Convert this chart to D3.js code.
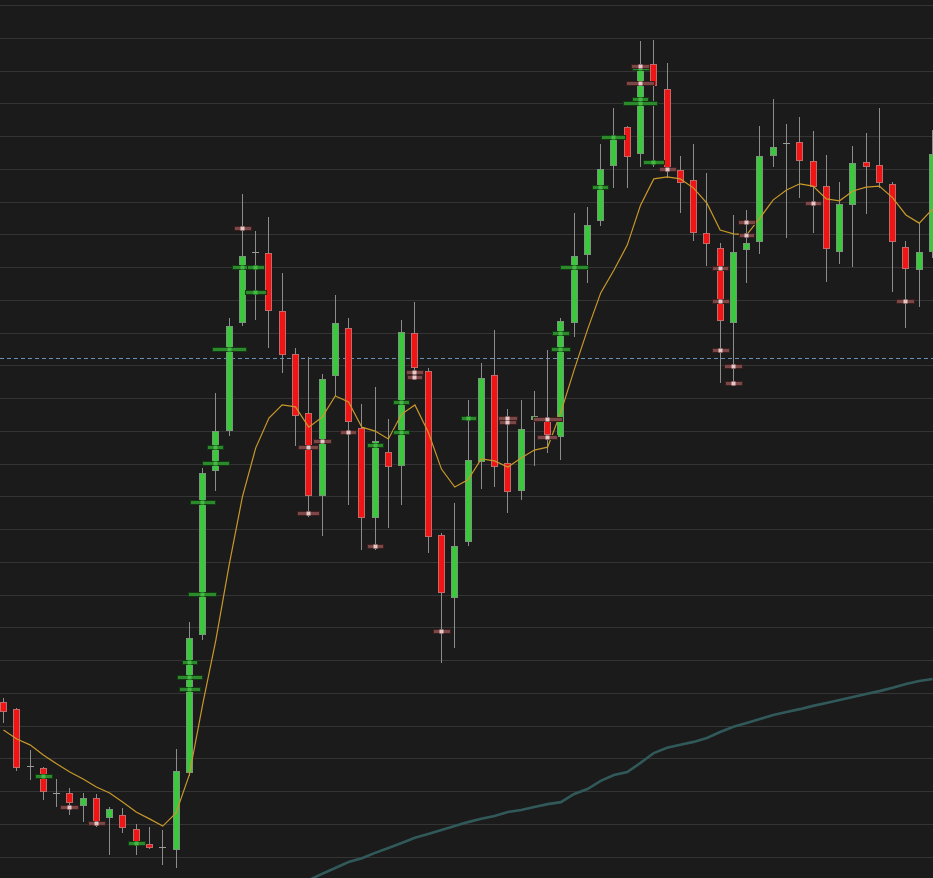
<!DOCTYPE html>
<html><head><meta charset="utf-8">
<script src="https://cdn.jsdelivr.net/npm/d3@7"></script>
<style>html,body{margin:0;padding:0;background:#1b1b1b;overflow:hidden}</style>
</head><body><svg id="c" width="933" height="878"></svg>
<script>
const opens  = [14.72,14.50,12.76,12.70,11.94,11.94,11.54,11.79,11.18,11.27,10.84,10.38,10.29,10.20,12.55,16.76,21.77,22.99,26.29,28.46,28.43,26.66,25.34,23.54,21.01,24.67,26.14,23.08,20.34,22.35,21.92,25.99,24.83,19.82,17.89,19.60,22.05,24.70,22.02,21.16,23.34,23.41,22.81,26.29,28.37,29.40,31.08,32.28,31.45,34.20,33.44,30.96,30.66,29.04,28.57,26.29,28.52,28.76,31.39,31.79,31.82,31.24,30.47,28.46,29.89,31.21,31.12,30.54,28.61,27.91,28.46];
const highs  = [14.84,14.52,13.25,12.72,12.37,12.09,11.94,11.91,11.51,11.48,10.99,10.90,10.81,13.28,17.16,21.86,24.15,26.44,30.23,29.10,29.53,27.82,25.53,25.25,24.73,27.15,26.44,23.82,24.34,23.36,26.38,26.93,24.92,19.88,20.79,23.94,25.07,26.08,23.66,23.94,24.21,25.47,26.44,29.65,29.83,31.76,32.86,32.31,34.90,34.93,34.23,31.39,31.76,30.87,28.73,29.59,29.74,32.31,33.13,32.37,32.58,32.15,31.42,30.60,31.70,32.09,32.86,30.60,28.79,29.34,32.18];
const lows   = [14.08,12.61,12.34,11.73,11.51,11.27,11.05,10.90,10.05,10.72,10.05,10.24,9.74,9.65,12.46,16.61,21.16,22.84,26.20,26.38,25.53,24.76,22.53,20.37,19.79,24.06,20.73,19.36,19.36,20.03,20.73,24.61,19.27,15.91,16.37,19.48,21.22,21.28,20.49,20.89,21.92,22.32,22.11,25.86,27.51,29.25,30.41,30.41,31.05,31.05,30.72,29.65,28.79,28.03,24.46,24.40,27.51,28.40,31.05,28.89,30.11,29.04,27.54,28.09,28.00,29.62,30.41,27.24,26.14,26.78,28.28];
const closes = [14.41,12.70,12.76,11.97,11.94,11.63,11.79,11.05,11.45,10.87,10.41,10.26,10.29,12.61,16.67,21.71,22.99,26.20,28.34,28.46,26.66,25.31,23.45,21.01,24.58,26.29,23.27,20.34,22.69,21.89,26.02,24.92,19.76,18.05,19.48,22.11,24.61,21.89,21.13,23.04,23.45,22.87,26.35,28.34,29.28,30.99,31.97,31.36,34.11,33.53,30.96,30.57,29.04,28.70,26.35,28.46,28.73,31.39,31.67,31.79,31.24,30.44,28.55,29.92,31.18,31.05,30.57,28.76,27.94,28.46,31.45];
const movingAvg = [13.86,13.59,13.41,13.10,12.83,12.58,12.37,12.12,11.94,11.66,11.36,11.15,10.93,11.33,12.49,14.63,16.61,18.90,20.98,22.47,23.39,23.79,23.73,23.11,23.41,24.06,23.88,23.11,22.99,22.75,23.51,23.79,22.96,21.83,21.28,21.50,22.14,22.08,21.89,22.17,22.41,22.50,23.57,24.86,26.08,27.21,27.91,28.67,29.89,30.69,30.75,30.69,30.41,29.95,29.13,29.01,28.98,29.50,30.05,30.35,30.54,30.47,30.08,30.02,30.32,30.44,30.47,30.11,29.59,29.34,29.77];
const slowLine = [null,null,null,null,null,null,null,null,null,null,null,null,null,null,null,null,null,null,null,null,null,null,null,9.28,9.47,9.65,9.83,9.95,10.11,10.26,10.41,10.57,10.69,10.81,10.93,11.05,11.15,11.24,11.36,11.42,11.51,11.60,11.66,11.91,12.06,12.31,12.49,12.58,12.86,13.16,13.32,13.41,13.50,13.62,13.80,13.96,14.08,14.20,14.32,14.41,14.50,14.60,14.69,14.78,14.87,14.96,15.05,15.15,15.27,15.36,15.42];
const refLevel = 25.22;
// trade markers
const markerBar   = [3,5,7,10,14,14,14,15,15,16,16,17,18,18,19,19,23,23,24,26,28,28,30,30,31,31,33,35,38,38,41,41,42,42,43,45,46,48,48,48,48,48,49,50,54,54,54,55,55,56,56,61,68];
const markerPrice = [12.46,11.51,11.02,10.41,15.94,15.48,15.12,20.83,18.02,22.50,22.02,25.50,29.19,28.00,28.00,27.24,22.50,20.49,22.69,22.96,22.57,19.48,23.88,22.96,24.79,24.64,16.89,23.39,23.39,23.27,23.36,22.81,25.99,25.50,28.00,30.44,31.97,34.08,34.15,33.62,33.13,33.01,31.21,31.00,27.97,26.96,25.47,24.98,24.46,29.37,28.98,29.95,26.96];
const markerQty   = [900,950,900,900,800,1300,1100,1300,1450,850,1400,1750,900,1100,900,1100,1050,1150,950,850,850,850,850,850,900,800,900,800,1000,900,1500,1050,900,1000,1450,850,1250,900,950,1450,850,1750,1100,900,850,900,900,950,900,900,800,850,950];
const markerSide  = ["B","S","S","B","B","B","B","B","B","B","B","B","S","B","B","B","S","S","S","S","B","S","B","B","S","S","S","B","S","S","S","S","B","B","B","B","B","B","S","S","B","B","B","S","S","S","S","S","S","S","S","S","S"];

const W = 933, H = 878;
const svg = d3.select('#c');
svg.append('rect').attr('width', W).attr('height', H).attr('fill', '#1b1b1b');

const x = d3.scaleLinear().domain([0, 70]).range([3, 932]);
const y = d3.scaleLinear().domain([9.344, 36.153]).range([H, 0]);
const qw = d3.scaleLinear().domain([0, 2000]).range([0, 40]);

// grid
svg.append('g').selectAll('line').data(y.ticks(26)).join('line')
  .attr('x1', 0).attr('x2', W)
  .attr('y1', d => Math.round(y(d)) + 0.5).attr('y2', d => Math.round(y(d)) + 0.5)
  .attr('stroke', '#343434').attr('stroke-width', 1);

// reference dashed line
svg.append('line').attr('x1', 0).attr('x2', W)
  .attr('y1', Math.round(y(refLevel)) + 0.5).attr('y2', Math.round(y(refLevel)) + 0.5)
  .attr('stroke', '#6a8fb5').attr('stroke-width', 1).attr('stroke-dasharray', '4,3');

// slow line
svg.append('path').datum(slowLine)
  .attr('d', d3.line().defined(d => d != null).x((d, i) => x(i) + 0.5).y(d => y(d)))
  .attr('fill', 'none').attr('stroke', '#31595a').attr('stroke-width', 2.6);

const data = opens.map((o, i) => ({i, o, h: highs[i], l: lows[i], c: closes[i]}));
const cg = svg.append('g');
const cx = d => Math.round(x(d.i));
// wicks
cg.selectAll('line.w').data(data).join('line').attr('class', 'w')
  .attr('x1', d => cx(d) + 0.5).attr('x2', d => cx(d) + 0.5)
  .attr('y1', d => Math.round(y(d.h))).attr('y2', d => Math.round(y(d.l)))
  .attr('stroke', '#8c8c8c').attr('stroke-width', 1);
// bodies
const bodies = data.filter(d => d.o !== d.c);
cg.selectAll('rect.b').data(bodies).join('rect').attr('class', 'b')
  .attr('x', d => cx(d) - 2.5).attr('width', 6)
  .attr('y', d => Math.round(y(Math.max(d.o, d.c))) + 0.5)
  .attr('height', d => Math.max(1, Math.round(y(Math.min(d.o, d.c))) - Math.round(y(Math.max(d.o, d.c))) - 1))
  .attr('fill', d => d.c > d.o ? '#3cc83c' : '#f01414')
  .attr('stroke', d => d.c > d.o ? '#78967a' : '#c06a6a').attr('stroke-width', 1);
// doji
cg.selectAll('line.d').data(data.filter(d => d.o === d.c)).join('line').attr('class', 'd')
  .attr('x1', d => cx(d) - 3).attr('x2', d => cx(d) + 4)
  .attr('y1', d => Math.round(y(d.o)) + 0.5).attr('y2', d => Math.round(y(d.o)) + 0.5)
  .attr('stroke', '#9a9a9a').attr('stroke-width', 1);

// moving average
svg.append('path').datum(movingAvg)
  .attr('d', d3.line().x((d, i) => x(i) + 0.5).y(d => y(d)))
  .attr('fill', 'none').attr('stroke', '#c8982a').attr('stroke-width', 1.2);

// markers
const marks = markerBar.map((b, k) => ({b, p: markerPrice[k], q: markerQty[k], s: markerSide[k]}));
const mg = svg.append('g');
marks.forEach(m => {
  const mx = Math.round(x(m.b)) + 0.5;
  const my = Math.round(y(m.p));
  const w = Math.round(qw(m.q));
  const buy = m.s === 'B';
  mg.append('rect').attr('x', Math.round(mx - w / 2) + 0.5).attr('y', my - 2 + 0.5)
    .attr('width', w - 1).attr('height', 4)
    .attr('fill', buy ? '#2c8a2c' : '#7c4747')
    .attr('stroke', buy ? '#123a12' : '#3a1e1e').attr('stroke-width', 1);
  mg.append('rect').attr('x', mx - 2).attr('y', my - 1.5)
    .attr('width', 4).attr('height', 4)
    .attr('fill', buy ? '#45b845' : '#e6c6c6');
});
</script></body></html>
